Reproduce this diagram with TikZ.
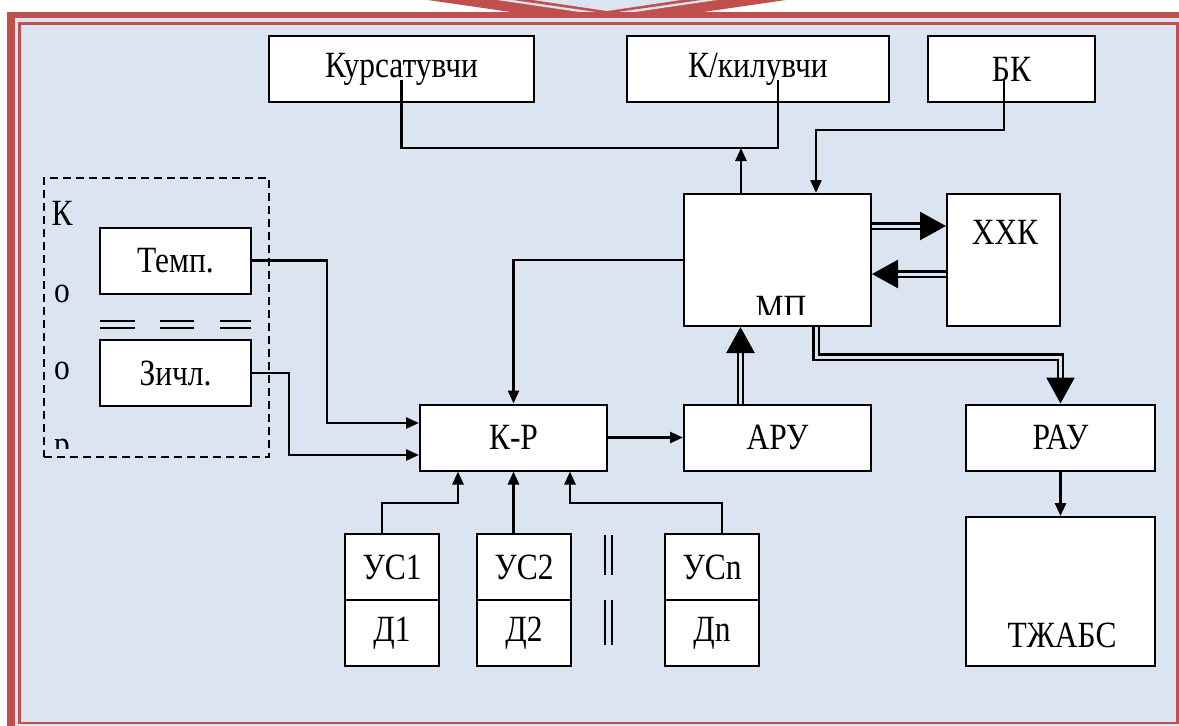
\documentclass[tikz,border=0pt]{standalone}
\usepackage{fontspec}
\setmainfont[FakeStretch=0.85]{Liberation Serif}
\usetikzlibrary{arrows.meta}
\definecolor{framered}{RGB}{192,80,77}
\definecolor{paneblue}{RGB}{219,229,241}

\begin{document}
\begin{tikzpicture}[x=1pt, y=-1pt,
    font=\fontsize{37}{40}\selectfont,
    % reusable styles for blocks and connectors
    box/.style={draw, line width=2pt, fill=white, inner sep=0pt},
    groupbox/.style={draw, line width=2pt, dash pattern=on 8pt off 5pt, inner sep=0pt},
    lbl/.style={inner sep=0pt},
    wire/.style={line width=2.6pt},
    arr/.style={wire, -{Triangle[length=13pt, width=11pt]}},
    bigarr/.style={line width=2.4pt, double=paneblue, double distance=3pt, -{Triangle[length=26pt, width=28pt]}},
    bar/.style={line width=2.8pt}
  ]

  \useasboundingbox (0,0) rectangle (1179,726);
  \clip (0,0) rectangle (1179,726);
  \fill[white] (0,0) rectangle (1179,726);

  % frame tab at the top
  \begin{scope}
    \clip (0,0) rectangle (1179,12.5);
    \fill[framered] (428,0) -- (607,26) -- (786,0) -- cycle;
    \fill[paneblue] (497,0) -- (607,16) -- (717,0) -- cycle;
    \fill[framered] (513,0) -- (607,13.5) -- (701,0) -- cycle;
    \fill[paneblue] (533,0) -- (607,11) -- (681,0) -- cycle;
  \end{scope}

  % frame
  \fill[framered] (7,12) rectangle (1190,740);
  \fill[paneblue] (15,18) rectangle (1190,740);
  \draw[framered, line width=2.5pt, fill=paneblue] (19.5,23.5) rectangle (1177.5,723);

  % blocks
  \node[box, minimum width=265, minimum height=66] (kurs) at (401.5,69) {Курсатувчи};
  \node[box, minimum width=262, minimum height=66] (kil) at (758,69) {К/килувчи};
  \node[box, minimum width=167, minimum height=66] (bk) at (1011.5,69) {БК};
  \node[box, minimum width=187, minimum height=132] (mp) at (777.5,260) {};
  \node[box, minimum width=113, minimum height=132] (xxk) at (1003.5,260) {};
  \node[lbl] (xxkt) at (1005,232) {ХХК};
  \node[box, minimum width=151, minimum height=66] (temp) at (175.5,260.5) {Темп.};
  \node[box, minimum width=151, minimum height=66] (zichl) at (175.5,373) {Зичл.};
  \node[box, minimum width=187, minimum height=66] (kr) at (513.5,437.5) {К-Р};
  \node[box, minimum width=187, minimum height=66] (aru) at (777.5,437.5) {АРУ};
  \node[box, minimum width=189, minimum height=66] (rau) at (1060.5,437.5) {РАУ};
  \node[box, minimum width=189, minimum height=149] (tjabs) at (1060.5,591.5) {};
  \node[lbl] (tjabst) at (1062,635) {ТЖАБС};

  \foreach \n/\x in {1/392, 2/524, n/712} {
    \node[box, minimum width=94, minimum height=66] (us\n) at (\x,567) {УС\n};
    \node[box, minimum width=94, minimum height=66] (d\n) at (\x,633) {Д\n};
  }

  \begin{scope}
    \clip (mp.north west) rectangle ([yshift=13pt]mp.south east);
    \node[lbl] (mpt) at (781,308) {МП};
  \end{scope}

  % sensor group
  \node[groupbox, minimum width=225, minimum height=279] (grp) at (156.5,317.5) {};
  \begin{scope}
    \clip (grp.north west) rectangle (269,448);
    \foreach \c [count=\i from 0] in {К,о,о,р}
      \node[lbl, anchor=base] (let\i) at (62,{225+77*\i}) {\c};
  \end{scope}
  \foreach \a/\b in {100/135, 160/194, 220/251} {
    \draw[bar] (\a,321) -- (\b,321);
    \draw[bar] (\a,328) -- (\b,328);
  }
  \foreach \y/\z in {535/575, 600/645} {
    \draw[bar] (605,\y) -- (605,\z);
    \draw[bar] (612,\y) -- (612,\z);
  }

  % connectors
  \coordinate (bus) at (741,148);
  \coordinate (kilx) at (778,80);
  \coordinate (bkx) at (1004,80);
  \coordinate (bkbend) at (816,130);
  \coordinate (tbend) at (327,423);
  \coordinate (zbend) at (289,455);
  \coordinate (rbus) at (816,357);
  \coordinate (u1) at (458,503);
  \coordinate (un) at (570,503);

  \draw[wire] ([yshift=-11pt]kurs.center) |- (kilx |- bus) -- (kilx);
  \draw[arr] (mp.north -| bus) -- (bus);
  \draw[arr] (bkx) |- (bkbend) -- (bkbend |- mp.north);
  \draw[arr] (mp.west) -| (kr.north);
  \draw[arr] (temp.east) -| (tbend) -- (tbend -| kr.west);
  \draw[arr] (zichl.east) -| (zbend) -- (zbend -| kr.west);
  \draw[arr] (kr.east) -- (aru.west);
  \draw[arr] (rau.south) -- (tjabs.north);
  \draw[arr] ([xshift=-10pt]us1.north) |- (u1) -- (u1 |- kr.south);
  \draw[arr] (kr.south |- us2.north) -- (kr.south);
  \draw[arr] ([xshift=10pt]usn.north) |- (un) -- (un |- kr.south);

  \draw[bigarr] ([xshift=-37pt]aru.north) -- ([xshift=-37pt]mp.south);
  \draw[bigarr] ([yshift=-33pt]mp.north east) -- ([yshift=-33pt]mp.north east -| xxk.west);
  \draw[bigarr] ([yshift=-81pt]xxk.north west) -- ([yshift=-81pt]xxk.north west -| mp.east);
  \draw[bigarr] (mp.south -| rbus) |- (rau.north |- rbus) -- (rau.north);

\end{tikzpicture}
\end{document}
